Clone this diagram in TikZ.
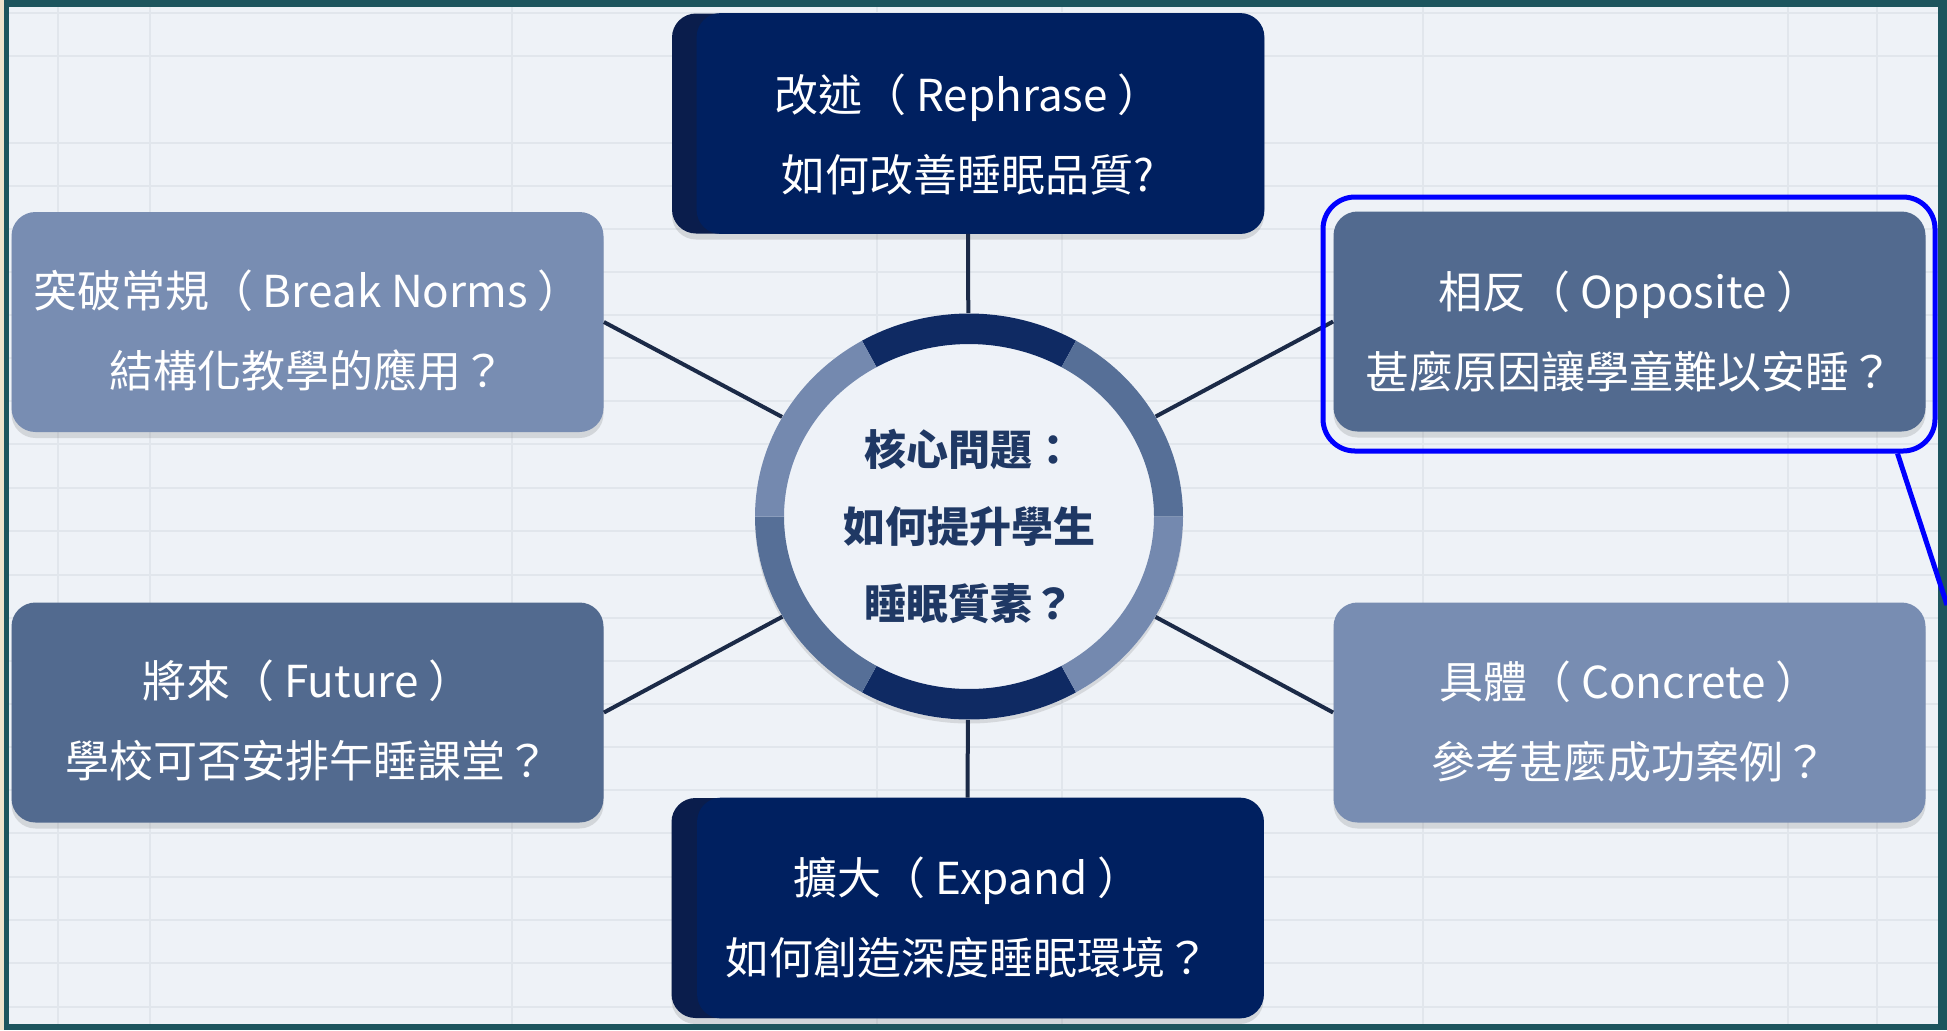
\documentclass[tikz,border=0pt]{standalone}
\usepackage{fontspec}
\setmainfont{Noto Sans CJK TC}
\usetikzlibrary{shapes.geometric,shadows,calc}

\definecolor{framecol}{HTML}{1D555E}
\definecolor{beige}{HTML}{EFE3CC}
\definecolor{bgcol}{HTML}{EEF2F7}
\definecolor{gridcol}{HTML}{E1E6EC}
\definecolor{navy}{HTML}{002060}
\definecolor{navydark}{HTML}{0A1D4C}
\definecolor{slatedark}{HTML}{526A8F}
\definecolor{slatelight}{HTML}{788DB2}
\definecolor{ringdark}{HTML}{0F2A63}
\definecolor{ringslated}{HTML}{566F97}
\definecolor{ringslatel}{HTML}{7489AF}
\definecolor{innercol}{HTML}{EEF2F8}
\definecolor{conncol}{HTML}{1B2A47}
\definecolor{centertext}{HTML}{1F3864}
\definecolor{hlblue}{HTML}{0000FF}

\begin{document}
\begin{tikzpicture}[x=0.5pt,y=-0.5pt,
  boxbase/.style={rectangle, rounded corners=12pt, minimum width=296pt,
    minimum height=110pt, inner sep=0pt,
    drop shadow={shadow xshift=0pt, shadow yshift=-3pt, opacity=0.2, fill=black!60}},
  boxtext/.style={text=white, align=center, inner sep=0pt,
    font=\fontsize{22pt}{40pt}\selectfont},
  conn/.style={draw=conncol, line width=2pt},
  hubtext/.style={text=centertext, align=center, inner sep=0pt,
    font=\bfseries\fontsize{21pt}{38.5pt}\selectfont}]

% background, frame and grid
\useasboundingbox (0,0) rectangle (1947,1030);
\fill[framecol] (0,0) rectangle (1947,1030);
\fill[beige] (0,0) rectangle (4,1030);
\fill[bgcol] (9,7) rectangle (1938,1024);
\foreach \gx in {58,150,512,877,1062,1423,1788,1877}
  \draw[gridcol, line width=0.8pt] (\gx,7) -- (\gx,1024);
\foreach \gy in {13,56,143,186,229,272,315,358,401,444,488,531,575,618,661,704,747,790,833,877,920,963,1007}
  \draw[gridcol, line width=0.8pt] (9,\gy) -- (1938,\gy);

% side boxes
\node[boxbase, fill=slatelight] (norms) at (307.5,322) {};
\node[boxbase, fill=slatedark] (future) at (307.5,712.5) {};
\node[boxbase, fill=slatedark] (oppo) at (1629.5,321.5) {};
\node[boxbase, fill=slatelight] (concr) at (1629.5,712.5) {};

% navy boxes (two layers)
\node[boxbase, fill=navydark] (reph) at (968,123.5) {};
\fill[navy, rounded corners=12pt] ([xshift=12.5pt]reph.south west) rectangle (reph.north east);
\node[boxbase, fill=navydark] (expand) at (967.5,908) {};
\fill[navy, rounded corners=12pt] ([xshift=13pt]expand.south west) rectangle (expand.north east);

% hub
\node[ellipse, minimum width=214pt, minimum height=203pt, inner sep=0pt, fill=innercol,
  drop shadow={shadow xshift=0pt, shadow yshift=-2pt, opacity=0.18, fill=black!60}] (hub) at (969,516.5) {};

% connectors
\draw[conn] (hub) -- (reph.south);
\draw[conn] (hub) -- (expand.north);
\draw[conn] (hub) -- (norms.east);
\draw[conn] (hub) -- (oppo.west);
\draw[conn] (hub) -- (future.east);
\draw[conn] (hub) -- (concr.west);

% ring segments
\fill[ringdark] plot[domain=240:300, samples=40] ({969+214*cos(\x)},{516.5+203*sin(\x)})
  -- plot[domain=300:240, samples=40] ({969+185*cos(\x)},{516.5+172.5*sin(\x)}) -- cycle;
\fill[ringdark] plot[domain=60:120, samples=40] ({969+214*cos(\x)},{516.5+203*sin(\x)})
  -- plot[domain=120:60, samples=40] ({969+185*cos(\x)},{516.5+172.5*sin(\x)}) -- cycle;
\fill[ringslated] plot[domain=300:360, samples=40] ({969+214*cos(\x)},{516.5+203*sin(\x)})
  -- plot[domain=360:300, samples=40] ({969+185*cos(\x)},{516.5+172.5*sin(\x)}) -- cycle;
\fill[ringslatel] plot[domain=0:60, samples=40] ({969+214*cos(\x)},{516.5+203*sin(\x)})
  -- plot[domain=60:0, samples=40] ({969+185*cos(\x)},{516.5+172.5*sin(\x)}) -- cycle;
\fill[ringslated] plot[domain=120:180, samples=40] ({969+214*cos(\x)},{516.5+203*sin(\x)})
  -- plot[domain=180:120, samples=40] ({969+185*cos(\x)},{516.5+172.5*sin(\x)}) -- cycle;
\fill[ringslatel] plot[domain=180:240, samples=40] ({969+214*cos(\x)},{516.5+203*sin(\x)})
  -- plot[domain=240:180, samples=40] ({969+185*cos(\x)},{516.5+172.5*sin(\x)}) -- cycle;

% texts
\node[boxtext] (rephT) at ([yshift=-5.5pt]reph.center) {改述（ Rephrase ）\\如何改善睡眠品質?};
\node[boxtext] (normsT) at ([yshift=-4.5pt]norms.center) {突破常規（ Break Norms ）\\結構化教學的應用？};
\node[boxtext] (oppoT) at ([yshift=-5pt]oppo.center) {相反（ Opposite ）\\甚麼原因讓學童難以安睡？};
\node[boxtext] (futureT) at ([yshift=-4pt]future.center) {將來（ Future ）\\學校可否安排午睡課堂？};
\node[boxtext] (concrT) at ([yshift=-4.5pt]concr.center) {具體（ Concrete ）\\參考甚麼成功案例？};
\node[boxtext] (expandT) at ([yshift=-4.5pt]expand.center) {擴大（ Expand ）\\如何創造深度睡眠環境？};
\node[hubtext] (hubT) at ([yshift=-5pt]hub.center) {核心問題：\\如何提升學生\\睡眠質素？};

% highlight
\node[draw=hlblue, line width=2.5pt, rounded corners=16pt, minimum width=306pt,
  minimum height=127pt, inner sep=0pt] (hl) at (1629,324) {};
\coordinate (hlend) at (1947,605);
\draw[hlblue, line width=2.5pt] ([xshift=-20pt]hl.south east) -- (hlend);
\end{tikzpicture}
\end{document}
